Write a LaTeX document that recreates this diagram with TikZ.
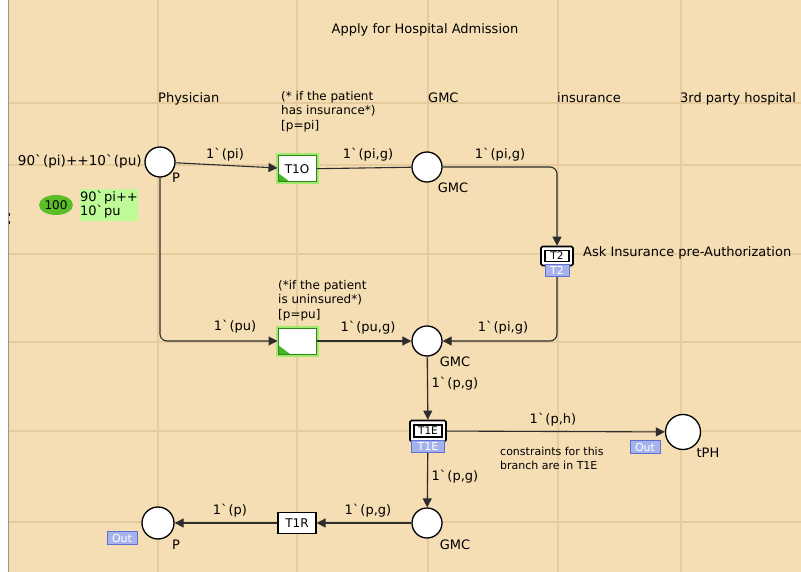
\documentclass[tikz,border=0pt]{standalone}
\usepackage{fontspec}
\setmainfont{DejaVu Sans}[Ligatures=TeXOff]
\usetikzlibrary{arrows.meta,shapes.geometric}
\definecolor{bg}{RGB}{245,222,180}
\definecolor{gridc}{RGB}{230,203,158}
\definecolor{edgec}{RGB}{160,148,140}
\definecolor{arcc}{RGB}{45,45,45}
\definecolor{glowc}{RGB}{160,235,110}
\definecolor{trgreen}{RGB}{50,130,30}
\definecolor{cornerg}{RGB}{70,180,40}
\definecolor{tokeng}{RGB}{90,190,40}
\definecolor{markg}{RGB}{190,250,150}
\definecolor{tagfill}{RGB}{165,178,236}
\definecolor{tagdraw}{RGB}{95,112,210}
% CPN multiset backquote, with a little room after it
\newcommand\bq{\char"60\kern1pt\relax}
\begin{document}
\begin{tikzpicture}[x=1pt,y=-1pt,
  font=\fontsize{13}{15}\selectfont,
  place/.style={circle,draw=black,line width=1.3pt,fill=white,minimum size=30pt,inner sep=0pt},
  trans/.style={rectangle,draw=black,line width=1.2pt,fill=white,minimum width=38pt,minimum height=21pt,inner sep=0pt,font=\fontsize{12}{14}\selectfont},
  gtrans/.style={rectangle,draw=trgreen,line width=1pt,fill=white,minimum width=38pt,minimum height=26pt,inner sep=0pt,font=\fontsize{12}{14}\selectfont,
    preaction={draw=glowc,line width=5pt},
    path picture={\fill[cornerg] (path picture bounding box.south west) -- ++(12,0) -- ++(-12,-9) -- cycle;}},
  subst/.style={rectangle,draw=black,line width=1.6pt,fill=white,rounded corners=1.5pt,inner sep=0pt},
  inner/.style={rectangle,draw=black,line width=1.6pt,fill=white,inner sep=0pt,font=\fontsize{10.5}{12}\selectfont},
  tag/.style={rectangle,draw=tagdraw,line width=0.8pt,fill=tagfill,text=white,inner sep=0pt,font=\fontsize{11}{12}\selectfont},
  arc/.style={draw=arcc,line width=1.1pt},
  arr/.style={arc,-{Triangle[length=9pt,width=9pt]}},
  lbl/.style={inner sep=0pt,anchor=center},
  head/.style={inner sep=0pt,anchor=base west},
  txt/.style={inner sep=0pt,anchor=north west,align=left,font=\fontsize{12}{14.5}\selectfont}]
\useasboundingbox (0,0) rectangle (801,572);
% page background, left margin and grid
\fill[white] (0,0) rectangle (801,572);
\fill[bg] (9,0) rectangle (801,572);
\draw[edgec,line width=1.2pt] (8.5,0) -- (8.5,572);
\foreach \gx in {158,297,428,558,681} \draw[gridc,line width=1.2pt] (\gx,0) -- (\gx,572);
\foreach \gy in {103,165,254,342,431,522} \draw[gridc,line width=1.2pt] (9,\gy) -- (801,\gy);
\draw[black,line width=1pt] (9,213) -- (9,216) (9,221) -- (9,224);

% title and column headers
\node[lbl] (title) at (425,30) {Apply for Hospital Admission};
\node[head] (hphys) at (158,103) {Physician};
\node[head] (hgmc) at (428,103) {GMC};
\node[head] (hins) at (557,103) {insurance};
\node[head] (h3rd) at (680,103) {3rd party hospital};

% places
\node[place] (P1) at (160,162) {};
\node[place] (GMC1) at (427,167) {};
\node[place] (GMC2) at (427,341) {};
\node[place] (GMC3) at (427,523) {};
\node[place,minimum size=35pt] (tPH) at (683,432) {};
\node[place,minimum size=32pt] (P2) at (158,523) {};

\node[lbl] (P1n) at (176,178) {P};
\node[lbl] (GMC1n) at (453,188) {GMC};
\node[lbl] (GMC2n) at (455,362) {GMC};
\node[lbl] (GMC3n) at (455,545) {GMC};
\node[lbl] (tPHn) at (708,453) {tPH};
\node[lbl] (P2n) at (176,545) {P};

% initial marking of P
\node[inner sep=0pt,anchor=east,font=\fontsize{13.6}{15}\selectfont] (init) at (142,161) {90\bq(pi)++10\bq(pu)};
\node[ellipse,fill=tokeng,minimum width=34pt,minimum height=20pt,inner sep=0pt,font=\fontsize{12}{14}\selectfont] (tok) at (56,205) {100};
\node[rectangle,fill=markg,minimum width=58pt,minimum height=32pt,inner sep=0pt,align=left,font=\fontsize{13}{14}\selectfont] (mark) at (109,205) {90\bq pi++\\10\bq pu};

% transitions
\node[gtrans] (T1O) at (297,169) {T1O};
\node[gtrans] (T1U) at (297,341) {};
\node[trans] (T1R) at (297,523) {T1R};
\node[subst,minimum width=32pt,minimum height=19pt] (T2) at (557,256) {};
\node[inner,minimum width=24pt,minimum height=11pt] (T2i) at (557,256) {T2};
\node[subst,minimum width=36pt,minimum height=21pt] (T1E) at (428,431) {};
\node[inner,minimum width=28pt,minimum height=12pt] (T1Ei) at (428,431) {T1E};

% guards and comments
\node[txt] (g1) at (281,91) {(* if the patient\\has insurance*)\\{[p=pi]}};
\node[txt] (g2) at (278,280) {(*if the patient\\is uninsured*)\\{[p=pu]}};
\node[inner sep=0pt,anchor=west] (ask) at (583,253) {Ask Insurance pre-Authorization};
\node[txt,font=\fontsize{11}{14}\selectfont] (cons) at (500,447) {constraints for this\\branch are in T1E};

% arcs
\draw[arr] (P1) -- (T1O);
\draw[arc] (T1O) -- (GMC1);
\draw[arr,rounded corners=7pt] (GMC1.east) -| (T2.north);
\draw[arr,rounded corners=7pt] (T2.south) |- (GMC2.east);
\draw[arr,rounded corners=7pt] (P1.south) |- (T1U.west);
\draw[arr] (T1U) -- (GMC2);
\draw[arr] (GMC2) -- (T1E);
\draw[arr] (T1E) -- (tPH);
\draw[arr] (T1E) -- (GMC3);
\draw[arr] (GMC3) -- (T1R);
\draw[arr] (T1R) -- (P2);

% substitution and port tags
\node[tag,minimum width=24pt,minimum height=12pt] (T2t) at (557,270) {T2};
\node[tag,minimum width=33pt,minimum height=12pt] (T1Et) at (428,446) {T1E};
\node[tag,minimum width=30pt,minimum height=13pt] (tPHt) at (645,447) {Out};
\node[tag,minimum width=30pt,minimum height=13pt] (P2t) at (122,538) {Out};

% arc inscriptions
\node[lbl] (a1) at (225,155) {1\bq(pi)};
\node[lbl] (a2) at (368,155) {1\bq(pi,g)};
\node[lbl] (a3) at (500,155) {1\bq(pi,g)};
\node[lbl] (a4) at (235,327) {1\bq(pu)};
\node[lbl] (a5) at (368,328) {1\bq(pu,g)};
\node[lbl] (a6) at (503,328) {1\bq(pi,g)};
\node[lbl] (a7) at (455,384) {1\bq(p,g)};
\node[lbl] (a8) at (553,420) {1\bq(p,h)};
\node[lbl] (a9) at (455,477) {1\bq(p,g)};
\node[lbl] (a10) at (368,511) {1\bq(p,g)};
\node[lbl] (a11) at (230,511) {1\bq(p)};
\end{tikzpicture}
\end{document}
